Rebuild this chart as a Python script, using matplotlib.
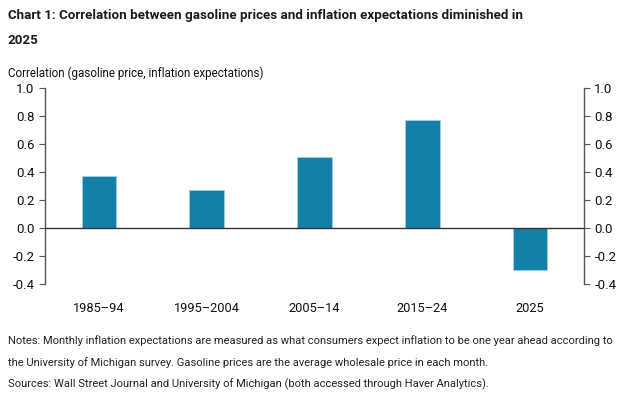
import matplotlib.pyplot as plt

periods = ["1985–94", "1995–2004", "2005–14", "2015–24", "2025"]
correlation = [0.37, 0.27, 0.51, 0.77, -0.30]
yticks = [-0.4, -0.2, 0.0, 0.2, 0.4, 0.6, 0.8, 1.0]

plt.rcParams["font.family"] = ["Roboto", "DejaVu Sans"]

fig = plt.figure(figsize=(6.27, 3.94), dpi=100)
W, H = 627, 394
ax = fig.add_axes([45 / W, 1 - 284 / H, (584 - 45) / W, (284 - 88) / H])

x = range(len(periods))
ax.bar(x, correlation, width=0.32, color="#1380a8", edgecolor="#9fd3e8", linewidth=0.6, zorder=2)
ax.axhline(0, color="#333333", linewidth=1, zorder=3)

ax.set_xlim(-0.5, len(periods) - 0.5)
ax.set_ylim(-0.4, 1.0)
ax.set_yticks(yticks)
ax.set_yticklabels([f"{v:.1f}" for v in yticks])
ax.set_xticks(list(x))
ax.set_xticklabels(periods, fontsize=9.2)

for s in ["top", "bottom"]:
    ax.spines[s].set_visible(False)
for s in ["left", "right"]:
    ax.spines[s].set_color("#555555")
    ax.spines[s].set_linewidth(1)

ax.tick_params(axis="y", left=True, right=True, labelleft=True, labelright=True,
               direction="out", length=4, color="#555555", labelsize=9.5, labelcolor="#111111")
ax.tick_params(axis="x", length=0, pad=13, labelcolor="#111111")

fig.text(8 / W, 1 - 15 / H, "Chart 1: Correlation between gasoline prices and inflation expectations diminished in",
         fontsize=9.6, fontweight="bold", va="center", color="#1a1a1a")
fig.text(8 / W, 1 - 40 / H, "2025", fontsize=9.6, fontweight="bold", va="center", color="#1a1a1a")
fig.text(8 / W, 1 - 73 / H, "Correlation (gasoline price, inflation expectations)", fontsize=8.4,
         va="center", color="#111111")

notes = ["Notes: Monthly inflation expectations are measured as what consumers expect inflation to be one year ahead according to",
         "the University of Michigan survey. Gasoline prices are the average wholesale price in each month.",
         "Sources: Wall Street Journal and University of Michigan (both accessed through Haver Analytics)."]
for i, line in enumerate(notes):
    fig.text(8 / W, 1 - (341 + 21.5 * i) / H, line, fontsize=8.05, va="center", color="#222222")

fig.savefig("out.png", dpi=100)
